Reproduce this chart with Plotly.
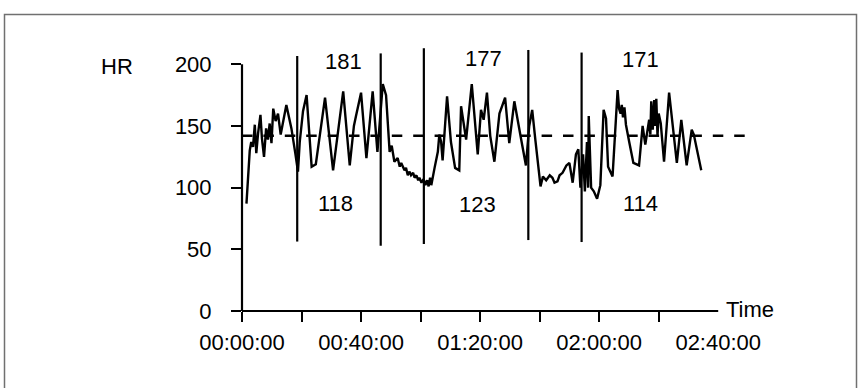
import plotly.graph_objects as go

# ---- data (time in minutes, heart rate in bpm) ----
TIME_MIN = [1.5, 2.6, 3.1, 3.7, 4.3, 4.8, 5.4, 6.2, 6.7, 7.4, 8.1, 8.7, 9.3, 9.9, 10.5, 11.3, 12.1, 13.0, 14.9, 16.6, 17.9, 18.8,
            19.4, 20.5, 21.7, 22.7, 23.4, 24.8, 27.9, 30.6, 34.0, 36.2, 37.6, 38.3, 40.0, 41.8, 43.9, 45.5, 47.3, 48.4, 49.6,
            50.3, 51.2, 52.3, 53.0, 53.5, 54.6, 55.1, 55.7, 56.3, 56.8, 57.5, 58.0, 58.6, 59.2, 59.6, 60.3, 61.0, 61.6, 62.2, 62.7, 63.2, 63.6,
            64.7, 65.8, 66.3, 66.9, 67.4, 68.9, 70.2, 71.6, 73.0, 73.6, 75.3, 77.2, 79.2, 80.3, 81.2, 82.3, 83.4, 84.8, 86.5, 88.4, 89.8, 91.5, 93.8, 95.4,
            96.5, 97.5, 98.6, 100.3, 101.1, 102.2, 103.4, 104.3, 105.0, 106.0, 106.7, 107.7, 109.0, 110.0, 111.1, 112.2, 113.0, 113.7,
            114.6, 115.2, 115.9, 116.3, 116.5, 117.3, 118.2, 119.3, 120.4, 121.5, 122.3, 123.0, 124.5, 126.2, 126.7, 127.2, 127.6, 128.0,
            128.5, 129.0, 130.1, 131.5, 133.4, 134.6, 135.5, 136.2, 136.8, 137.2, 137.5, 138.0, 138.5, 138.8, 139.2, 139.6, 140.0, 140.7,
            141.8, 143.5, 146.1, 147.6, 149.4, 151.1, 151.8, 154.3]
HR = [87, 130, 137, 133, 151, 128, 144, 159, 140, 125, 148, 139, 152, 136, 164, 154, 160, 143, 167, 148, 128, 113,
      137, 162, 175, 143, 117, 119, 173, 114, 178, 118, 150, 158, 177, 124, 178, 129, 184, 175, 129,
      134, 121, 124, 117, 120, 114, 116, 110, 113, 110, 112, 108, 110, 106, 108, 104, 107, 102, 106, 101, 108, 102,
      116, 129, 143, 137, 122, 174, 137, 116, 114, 166, 139, 184, 127, 163, 155, 177, 142, 121, 160, 173, 136, 170, 139, 118,
      150, 163, 138, 101, 109, 106, 110, 108, 104, 105, 110, 112, 118, 120, 104, 127, 131, 100,
      127, 97, 137, 100, 158, 100, 97, 91, 102, 163, 156, 117, 109, 179, 164, 160, 167, 157,
      165, 151, 137, 120, 118, 150, 135, 146, 155, 143, 170, 147, 171, 150, 172, 142, 160, 152,
      121, 177, 120, 155, 118, 147, 143, 114]

THRESHOLD = 142

MARK_TIME = [18.55, 46.6, 61.1, 96.2, 114.1]
MARK_TOP = [206.7, 208.8, 213.0, 211.6, 209.5]
MARK_BOTTOM = [56.3, 52.9, 54.3, 57.5, 55.9]

PEAK_LABELS = ["181", "177", "171"]
PEAK_TIME = [34, 81, 134]
PEAK_Y = [202, 205, 203.5]
LOW_LABELS = ["118", "123", "114"]
LOW_TIME = [31.5, 79, 134]
LOW_Y = [86.8, 86, 87.5]

Y_TICKS = [0, 50, 100, 150, 200]
X_MINOR_TICKS = [0, 20, 40, 60, 80, 100, 120, 140]
X_LABEL_TICKS = [0, 40, 80, 120, 160]
X_LABELS = ["00:00:00", "00:40:00", "01:20:00", "02:00:00", "02:40:00"]

# ---- layout geometry ----
W, H = 861, 388
ML, MR, MT, MB = 242, 116, 47, 77
PW = W - ML - MR
PH = H - MT - MB
XR = [0, 169]
YR = [0, 214]
FONT = "Liberation Sans, Arial, Helvetica, sans-serif"
FS = 22


def px_x(px):
    return (px - ML) / PW


def px_y(py):
    return (H - MB - py) / PH


fig = go.Figure()
fig.add_trace(go.Scatter(x=TIME_MIN, y=HR, mode="lines",
                         line=dict(color="black", width=2.4), showlegend=False,
                         hoverinfo="skip"))

shapes = []
# dashed threshold line across the whole plot width
shapes.append(dict(type="line", xref="paper", yref="y", x0=0, x1=1,
                   y0=THRESHOLD, y1=THRESHOLD,
                   line=dict(color="black", width=2.4, dash="10.5px,10.9px")))
# vertical interval markers
for t, top, bot in zip(MARK_TIME, MARK_TOP, MARK_BOTTOM):
    shapes.append(dict(type="line", xref="x", yref="y", x0=t, x1=t, y0=bot, y1=top,
                       line=dict(color="black", width=2.2)))
# axis lines
shapes.append(dict(type="line", xref="paper", yref="y", x0=0, x1=0, y0=0, y1=Y_TICKS[-1],
                   line=dict(color="black", width=2.2)))
shapes.append(dict(type="line", xref="x", yref="paper", x0=0, x1=X_LABEL_TICKS[-1], y0=0, y1=0,
                   line=dict(color="black", width=2.2)))
# outer frame of the scanned figure
shapes.append(dict(type="rect", xref="paper", yref="paper",
                   x0=px_x(4.5), x1=px_x(856.5), y0=px_y(400), y1=px_y(14.5),
                   line=dict(color="#707070", width=1.5)))

annotations = []
for txt, t, y in zip(PEAK_LABELS + LOW_LABELS, PEAK_TIME + LOW_TIME, PEAK_Y + LOW_Y):
    annotations.append(dict(x=t, y=y, xref="x", yref="y", text=txt, showarrow=False,
                            font=dict(family=FONT, size=FS, color="black"),
                            xanchor="center", yanchor="middle"))
annotations.append(dict(x=px_x(116.5), y=Y_TICKS[-1], xref="paper", yref="y", text="HR",
                        showarrow=False, font=dict(family=FONT, size=FS, color="black"),
                        xanchor="center", yanchor="middle", yshift=-2))
annotations.append(dict(x=X_LABEL_TICKS[-1], y=0, xref="x", yref="y", text="Time",
                        showarrow=False, font=dict(family=FONT, size=FS, color="black"),
                        xanchor="left", yanchor="middle", xshift=6, yshift=2))

fig.update_layout(
    width=W, height=H,
    margin=dict(l=ML, r=MR, t=MT, b=MB, pad=0, autoexpand=False),
    paper_bgcolor="white", plot_bgcolor="white",
    font=dict(family=FONT, size=FS, color="black"),
    shapes=shapes, annotations=annotations, showlegend=False,
    xaxis=dict(range=XR, showgrid=False, zeroline=False, showline=False, automargin=False,
               tickmode="array", tickvals=X_MINOR_TICKS, showticklabels=False,
               ticks="outside", ticklen=10, tickwidth=2, tickcolor="black", fixedrange=True),
    xaxis2=dict(range=XR, overlaying="x", anchor="y", side="bottom", showgrid=False,
                zeroline=False, showline=False, automargin=False, tickmode="array",
                tickvals=X_LABEL_TICKS, ticktext=X_LABELS, ticks="", ticklabelstandoff=16,
                tickfont=dict(family=FONT, size=FS, color="black"), fixedrange=True),
    yaxis=dict(range=YR, showgrid=False, zeroline=False, showline=False, automargin=False,
               tickmode="array", tickvals=Y_TICKS, ticks="outside", ticklen=10, tickwidth=2,
               tickcolor="black", ticklabelstandoff=15,
               tickfont=dict(family=FONT, size=FS, color="black"), fixedrange=True),
)
# an invisible trace to activate the label axis
fig.add_trace(go.Scatter(x=[XR[0]], y=[YR[0]], xaxis="x2", yaxis="y", mode="markers",
                         marker=dict(opacity=0), showlegend=False, hoverinfo="skip"))

fig.write_html("out.html", config={"displayModeBar": False},
               post_script="document.body.style.margin='0';document.body.style.overflow='hidden';")
